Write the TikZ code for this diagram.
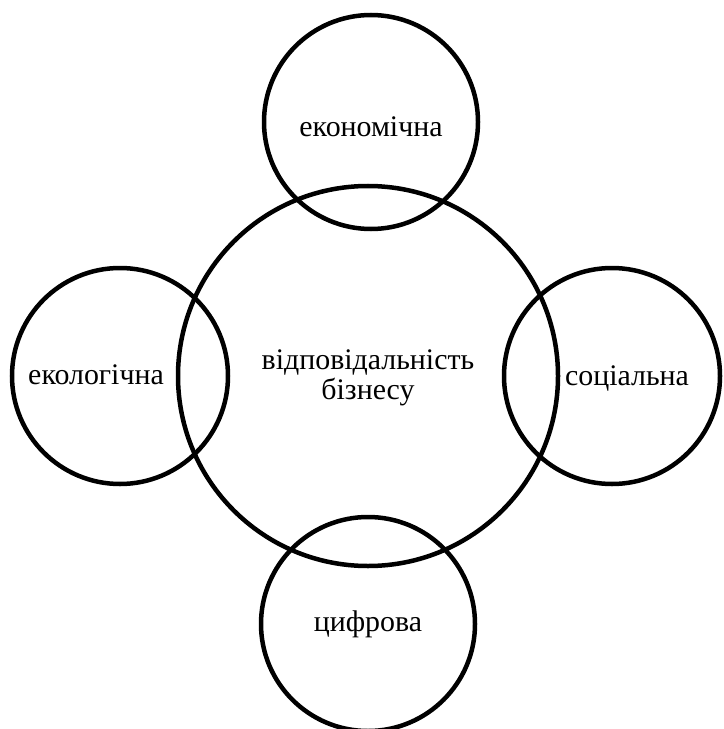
\documentclass[tikz,border=0pt]{standalone}
\usepackage{fontspec}
\setmainfont{Liberation Serif}
\tikzset{ring/.style={circle,draw,line width=4.5bp,inner sep=0pt},
  caption/.style={font=\fontsize{30}{30}\selectfont,align=center,inner sep=0pt,anchor=base}}

\begin{document}
\begin{tikzpicture}[x=1bp,y=-1bp]
  \path[use as bounding box] (0,0) rectangle (724,729);
  \clip (0,0) rectangle (724,729);
  % circles
  \node[ring,minimum size=380bp] (core) at (368,376) {};
  \node[ring,minimum size=214bp] (econ) at (371,122) {};
  \node[ring,minimum size=216bp] (eco) at (120,376) {};
  \node[ring,minimum size=216bp] (soc) at (612,376) {};
  \node[ring,minimum size=214bp] (dig) at (368,624) {};
  % labels
  \node[caption] (coretext) at (368,399) {відповідальність\\бізнесу};
  \node[caption] (econtext) at (371,137) {економічна};
  \node[caption] (ecotext) at (96,384) {екологічна};
  \node[caption] (soctext) at (627,385) {соціальна};
  \node[caption] (digtext) at (368,631) {цифрова};
\end{tikzpicture}
\end{document}
